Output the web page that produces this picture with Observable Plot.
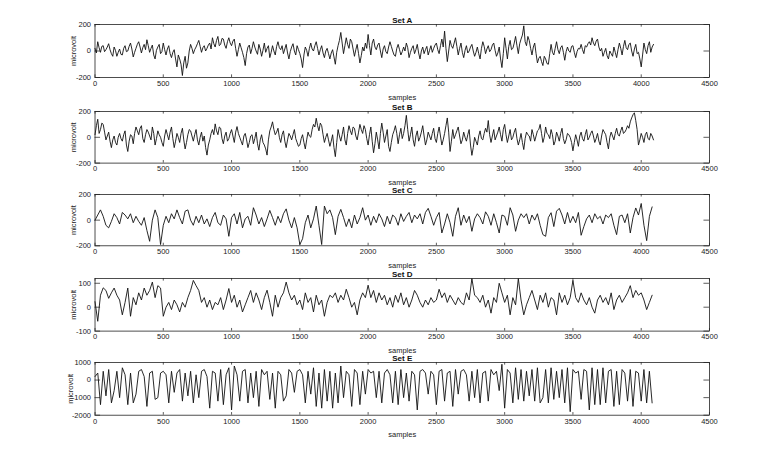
<!DOCTYPE html>
<html><head><meta charset="utf-8">
<script src="https://cdn.jsdelivr.net/npm/d3@7"></script>
<script src="https://cdn.jsdelivr.net/npm/@observablehq/plot@0.6"></script>
<style>
body{margin:0;background:#fff;}
#wrap{position:relative;width:778px;height:450px;overflow:hidden;background:#fff;}
#wrap svg{position:absolute;left:0;}
</style></head><body><div id="wrap"></div>
<script>
const xTicks = [0,500,1000,1500,2000,2500,3000,3500,4000,4500];

// Set A, one value every 10 samples
const setA = [
20,-15,70,25,-10,35,40,-5,10,30,55,10,-20,-40,30,5,-40,-10,15,-25,-30,20,40,-5,0,35,60,15,-45,-10,20,50,70,30,-15,25,50,10,85,40,-10,20,45,-30,-60,5,30,50,-20,-5,
60,10,-30,15,40,-20,-50,-10,10,-60,-120,-30,-60,-100,-185,-90,-40,-130,-90,0,50,20,-20,10,30,55,80,35,-10,25,40,0,20,45,60,15,100,55,30,80,110,40,50,95,90,45,20,70,100,60,
40,75,90,20,-40,10,60,25,-10,-50,-110,-20,30,45,-20,20,70,30,0,-25,50,15,-40,5,60,-10,20,40,-50,-10,40,0,-30,35,70,25,10,40,-20,15,50,-15,-60,-5,30,55,0,-30,40,10,
-20,-60,-125,-30,30,5,-40,20,60,15,0,40,70,20,-30,10,40,-15,-50,0,20,-20,-60,-15,10,-45,-100,-10,40,80,140,60,-20,40,100,50,20,90,70,15,-40,10,50,-20,-90,-35,30,0,60,20,
125,40,-30,60,90,30,10,45,60,0,-50,15,40,-5,-20,30,70,35,0,-30,-40,20,50,10,-30,-5,30,0,60,25,-50,-10,20,40,-20,10,50,-15,-60,0,30,-20,10,35,-30,5,40,-10,20,45,
60,10,-20,40,90,30,150,20,-80,0,80,40,20,60,100,35,-30,20,60,-10,-50,5,40,-15,0,30,50,0,-40,-10,30,-20,-60,20,70,35,-20,15,40,-5,10,45,60,5,-40,-15,30,-60,-125,-20,
100,20,-60,35,80,10,20,60,110,40,-20,55,90,120,190,70,40,110,80,20,-30,30,60,-20,-90,-55,-40,-80,-110,-40,-60,-95,-100,-20,50,-10,-30,20,70,10,-20,25,40,-10,-70,-5,30,0,-10,35,
40,-10,-50,-5,20,15,50,10,-20,40,30,55,70,45,100,60,40,75,90,30,0,20,-40,-10,20,-35,-60,0,-20,-40,30,-10,-50,10,60,20,-30,35,80,25,10,50,60,0,-40,15,50,-20,-10,-60,
-120,-30,60,10,-20,40,70,-10,30,50];

// Set B, one value every 10 samples
const setB = [
20,90,140,30,60,110,100,40,-20,10,40,-30,-80,-20,10,-40,-60,0,30,-10,-30,20,50,-60,-110,-30,20,10,-50,30,80,50,20,70,90,-10,-40,20,60,40,10,-20,80,30,-60,-10,50,20,0,-40,
-70,10,60,20,-20,40,80,-10,-80,-30,30,0,-40,30,70,-20,-90,-40,20,60,50,10,-30,20,60,-20,-60,0,40,-30,10,-80,-138,-60,-20,30,60,20,104,50,20,80,70,-10,-50,10,40,-30,-10,30,
60,10,-40,40,83,30,0,-30,-60,10,30,-20,-80,-40,10,20,-50,-10,40,-50,-100,-20,20,-40,-60,-90,-138,-20,50,80,120,60,20,40,70,0,-40,20,50,-30,-80,-20,30,10,-20,20,60,-10,-40,-70,
-60,-10,20,-40,-90,-20,40,10,0,60,100,80,148,90,50,110,90,20,-40,0,30,-20,-70,-30,20,-80,-150,-40,60,10,-30,20,80,-20,-60,30,90,50,20,80,70,10,-20,40,100,60,30,90,60,-10,
-60,20,80,-30,-120,-50,40,-20,-90,30,110,40,-40,10,60,-70,-110,-40,20,50,90,30,-50,20,70,-10,30,90,170,60,-30,20,80,-20,-70,10,50,-30,0,40,90,10,-60,-20,40,10,-20,30,70,-10,
-40,30,80,10,-60,-20,30,90,150,40,-110,-30,60,-10,20,50,80,10,-50,-20,40,0,-30,20,60,-60,-140,-80,0,-30,-60,10,50,-10,-20,30,70,40,130,20,-40,10,60,-20,10,40,80,20,-30,60,
100,20,-40,10,60,-20,0,40,70,-10,-60,-20,30,-40,-95,-10,40,20,10,-30,60,20,-30,10,50,60,100,30,-40,0,80,30,20,-10,60,20,-60,-30,40,10,-30,30,70,-10,-50,-20,30,20,0,-40,
-105,-40,20,-20,-70,10,40,-10,-30,20,60,-20,0,30,50,10,-40,-10,30,-30,-60,10,60,40,20,-40,-90,0,40,10,-20,30,70,20,10,50,80,30,40,60,90,70,120,150,175,190,130,60,-60,-20,
30,0,-40,20,40,-10,-20,30,10,-20];

// Set C, one value every 20 samples
const setC = [
0,40,80,30,-40,-60,-10,50,20,-30,60,40,10,50,-20,30,-10,-40,20,-80,-165,0,80,20,-190,
-40,30,-20,50,10,80,20,-30,70,80,0,-40,30,-20,40,-30,10,-50,20,60,-20,-40,40,10,-126,
20,50,-30,60,-60,10,30,-40,97,40,-30,20,-50,10,76,20,-40,30,-20,50,88,0,-60,20,-60,
-190,-145,-20,40,-60,10,110,-40,-190,110,50,80,20,-113,30,84,20,-50,10,-60,40,-30,20,97,0,
40,-40,30,-20,50,10,-50,30,-30,40,20,-40,50,-10,30,60,-20,40,10,50,-30,60,92,30,-40,
20,60,-100,-30,50,-20,-126,30,97,-40,40,-20,30,-87,10,50,20,-30,65,30,-40,50,-20,-100,40,
30,-40,97,40,-87,0,50,20,50,-30,40,0,50,-40,-113,-126,20,58,-50,70,92,40,-30,60,-20,
30,-20,60,-118,-50,10,40,-20,50,10,30,-30,40,20,50,-40,-113,30,40,-20,50,-100,20,95,40,
130,-40,-160,30,103];

// Set D, one value every 20 samples
const setD = [
23,-59,50,81,70,37,60,80,50,30,-32,20,80,-38,40,10,60,30,80,50,70,105,40,90,80,
-38,0,20,-10,30,10,-20,20,0,40,70,112,90,70,20,40,0,30,-10,20,10,40,-10,30,78,
20,50,0,30,-20,10,40,70,20,60,30,-10,40,71,20,-38,50,0,40,60,105,60,30,50,10,
30,-10,60,20,40,-20,50,10,30,-38,20,50,40,60,20,50,30,75,40,0,20,-32,30,60,40,
92,40,70,20,60,30,50,10,40,0,50,20,60,10,40,0,30,70,50,20,0,30,10,40,20,
30,75,40,60,20,50,30,10,40,20,10,60,30,120,50,40,20,50,0,30,-25,40,20,100,60,
20,50,-32,40,10,120,30,-32,10,40,70,30,-10,50,20,60,0,40,30,-32,60,20,50,10,40,
112,40,20,60,30,10,40,0,-25,30,50,20,40,10,60,-10,30,50,20,40,60,90,40,70,50,
60,30,-10,20,50];

// Set E, one value every 20 samples
const setE = [
200,400,-1400,500,-900,600,-1300,-600,500,-1000,700,300,-1400,400,-1300,-800,500,600,200,-1500,400,500,-1100,-1000,400,
500,300,-1300,500,-700,400,600,-1200,400,-900,500,-1300,300,-1000,500,600,200,-1600,500,400,-1200,600,-1400,300,700,
-1700,800,300,-1200,500,600,-1300,400,-1000,500,-1500,600,300,500,-1100,400,-1600,500,300,-1200,-900,600,400,-700,500,
600,300,-1300,500,-800,700,-1500,400,-1600,600,-1200,500,-1600,400,-1300,800,-1000,500,300,-1500,600,400,-1400,500,-800,
600,400,500,-1000,500,-1300,400,600,300,-1300,500,-1400,600,-1000,400,-1200,500,300,-1700,500,600,400,-800,500,300,
-1400,500,600,-1200,400,500,-1500,600,-800,500,600,300,-1200,500,-1000,600,-1300,400,500,-1200,600,300,500,-600,900,
-1600,600,400,-1300,700,-1100,600,-1200,500,-900,600,-1200,700,-1300,-1000,600,-1300,700,-1100,500,-1000,600,-1300,700,-1800,
600,400,500,-1100,600,500,-1700,700,-1400,600,-1400,700,-1300,500,600,-1500,500,-1400,600,400,-1200,600,-1500,500,400,
-1200,600,-1300,500,-1300];

const panels = [
  {title:"Set A", values:setA, step:10, domain:[-200,200], ticks:[-200,0,200], top:24.3, h:53, lab:24},
  {title:"Set B", values:setB, step:10, domain:[-200,200], ticks:[-200,0,200], top:110.7, h:51.6, lab:24},
  {title:"Set C", values:setC, step:20, domain:[-200,200], ticks:[-200,0,200], top:194, h:51.3, lab:24},
  {title:"Set D", values:setD, step:20, domain:[-100,120], ticks:[-100,0,100], top:277.7, h:52.6, lab:24},
  {title:"Set E", values:setE, step:20, domain:[-2000,1000], ticks:[-2000,-1000,0,1000], top:362.3, h:52.7, lab:27.5}
];

const wrap = document.getElementById("wrap");
const font = "'Liberation Sans', Arial, sans-serif";
for (const p of panels) {
  const data = p.values.map((v,i)=>({x:i*p.step, y:v}));
  const mt = 16, mb = 30;
  const [y0,y1] = p.domain;
  const ty = (y1-y0)*0.05, tx = 4500*0.009;
  const plot = Plot.plot({
    width:778, height: mt+p.h+mb,
    marginTop:mt, marginBottom:mb, marginLeft:94.5, marginRight:69,
    style:{background:"transparent", fontFamily:font, fontSize:"7.5px", color:"#222", overflow:"visible"},
    x:{domain:[0,4500]},
    y:{domain:p.domain},
    marks:[
      Plot.axisX({ticks:xTicks, tickSize:0, tickPadding:3, tickFormat:d=>String(d), label:"samples", labelAnchor:"center", labelOffset:22, labelArrow:"none", fill:"#222"}),
      Plot.axisY({ticks:p.ticks, tickSize:0, tickPadding:4, tickFormat:d=>String(d), label:"microvolt", labelAnchor:"center", labelOffset:p.lab, labelArrow:"none", fill:"#222"}),
      Plot.ruleX(xTicks, {x:d=>d, y1:y0, y2:y0+ty, stroke:"#333", strokeWidth:0.8}),
      Plot.ruleX(xTicks, {x:d=>d, y1:y1, y2:y1-ty, stroke:"#333", strokeWidth:0.8}),
      Plot.ruleY(p.ticks, {y:d=>d, x1:0, x2:tx, stroke:"#333", strokeWidth:0.8}),
      Plot.ruleY(p.ticks, {y:d=>d, x1:4500-tx, x2:4500, stroke:"#333", strokeWidth:0.8}),
      Plot.line(data, {x:"x", y:"y", stroke:"#111", strokeWidth:0.9}),
      Plot.frame({stroke:"#222", strokeWidth:0.8}),
      Plot.text([p.title], {frameAnchor:"top", lineAnchor:"bottom", dy:-1.5, fontWeight:"bold", fontSize:8, fill:"#111"})
    ]
  });
  plot.style.top = (p.top - mt) + "px";
  wrap.appendChild(plot);
}
</script>
</body></html>
